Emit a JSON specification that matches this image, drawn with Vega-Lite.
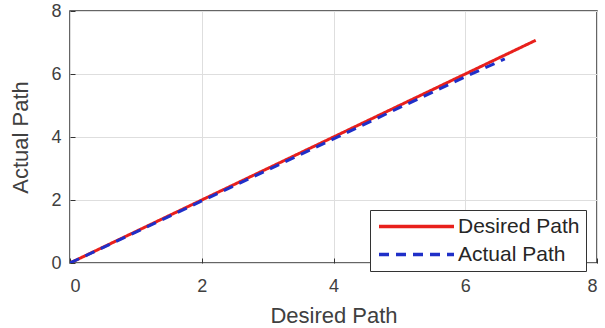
{
  "$schema": "https://vega.github.io/schema/vega-lite/v6.json",
  "autosize": {"type": "none"},
  "width": 527,
  "height": 252,
  "padding": {"left": 70, "top": 11, "right": 8, "bottom": 65},
  "background": "white",
  "config": {
    "font": "Liberation Sans",
    "view": {"stroke": "#333333", "strokeWidth": 1.5},
    "axis": {
      "grid": true,
      "gridColor": "#dedede",
      "gridWidth": 1,
      "domain": false,
      "tickColor": "#333333",
      "tickSize": -5,
      "labelFont": "Liberation Sans",
      "labelFontSize": 18,
      "labelColor": "#404040",
      "titleFont": "Liberation Sans",
      "titleFontSize": 22,
      "titleFontWeight": "normal",
      "titleColor": "#404040"
    },
    "legend": {
      "title": null,
      "orient": "none",
      "legendX": 300,
      "legendY": 199,
      "symbolType": "M-5,0H5",
      "symbolSize": 225,
      "symbolOffset": 30,
      "symbolStrokeWidth": 3.5,
      "labelFontSize": 21,
      "labelColor": "#262626",
      "labelFont": "Liberation Sans",
      "labelOffset": 31,
      "strokeColor": "#333333",
      "fillColor": "white",
      "padding": 6,
      "rowPadding": 6
    }
  },
  "data": {
    "values": [
      {"series": "Desired Path", "x": 0, "y": 0},
      {"series": "Desired Path", "x": 7.07, "y": 7.07},
      {"series": "Actual Path", "x": 0, "y": 0},
      {"series": "Actual Path", "x": 1, "y": 0.98},
      {"series": "Actual Path", "x": 2, "y": 1.97},
      {"series": "Actual Path", "x": 3, "y": 2.95},
      {"series": "Actual Path", "x": 4, "y": 3.94},
      {"series": "Actual Path", "x": 5, "y": 4.93},
      {"series": "Actual Path", "x": 6, "y": 5.91},
      {"series": "Actual Path", "x": 6.6, "y": 6.48}
    ]
  },
  "mark": {"type": "line", "strokeWidth": 3, "clip": true},
  "encoding": {
    "x": {
      "field": "x", "type": "quantitative",
      "scale": {"domain": [0, 8], "nice": false, "zero": false},
      "axis": {"values": [0, 2, 4, 6, 8], "title": "Desired Path", "labelPadding": 19, "titlePadding": 10}
    },
    "y": {
      "field": "y", "type": "quantitative",
      "scale": {"domain": [0, 8], "nice": false, "zero": false},
      "axis": {"values": [0, 2, 4, 6, 8], "title": "Actual Path", "labelPadding": 14, "titlePadding": 18}
    },
    "color": {
      "field": "series", "type": "nominal",
      "scale": {"domain": ["Desired Path", "Actual Path"], "range": ["#e8201c", "#1f2fc8"]}
    },
    "strokeDash": {
      "field": "series", "type": "nominal",
      "scale": {"domain": ["Desired Path", "Actual Path"], "range": [[1, 0], [10, 7]]}
    }
  }
}
